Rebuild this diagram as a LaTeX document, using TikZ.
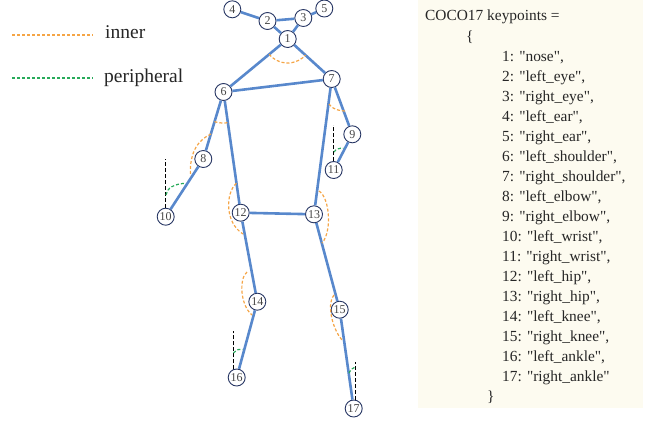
\documentclass[tikz,border=0pt]{standalone}
\usepackage{fontspec}
\setmainfont{Liberation Serif}[Ligatures=TeXOff]
\usetikzlibrary{calc}
\definecolor{bone}{RGB}{88,136,204}
\definecolor{kpedge}{RGB}{40,55,100}
\definecolor{kptext}{RGB}{70,70,70}
\definecolor{innerc}{RGB}{245,165,70}
\definecolor{periphc}{RGB}{40,170,90}
\definecolor{boxbg}{RGB}{253,251,240}
\begin{document}
\begin{tikzpicture}[x=1pt,y=-1pt,
  kp/.style={circle,draw=kpedge,fill=white,line width=0.9pt,minimum size=17pt,inner sep=0pt,
             font=\fontsize{12}{12}\selectfont,text=kptext},
  bonel/.style={draw=bone,line width=2.6pt},
  innerarc/.style={draw=innerc,line width=1.2pt,dash pattern=on 3pt off 2pt},
  periarc/.style={draw=periphc,line width=1.2pt,dash pattern=on 3pt off 2pt},
  vertl/.style={draw=black,line width=1.3pt,dash pattern=on 4pt off 2pt},
  listtxt/.style={anchor=base west,inner sep=0pt,font=\fontsize{15.4}{20}\selectfont,text=black!85},
  legtxt/.style={anchor=base west,inner sep=0pt,font=\fontsize{19.5}{22}\selectfont,text=black!85}]
\useasboundingbox (0,0) rectangle (645,421);
% list box
\fill[boxbg] (418,0) rectangle (643,408);
\node[listtxt] (title) at (425,20.5) {COCO17 keypoints =};
\node[listtxt] (obr) at (466,41) {\{};
\foreach \i/\n in {1/nose,2/left\_eye,3/right\_eye,4/left\_ear,5/right\_ear,6/left\_shoulder,
  7/right\_shoulder,8/left\_elbow,9/right\_elbow,10/left\_wrist,11/right\_wrist,12/left\_hip,
  13/right\_hip,14/left\_knee,15/right\_knee,16/left\_ankle}
  \node[listtxt] (item\i) at (502,{41+20*\i}) {\i: "\n",};
\node[listtxt] (item17) at (502,381) {17: "right\_ankle"};
\node[listtxt] (cbr) at (487,401) {\}};
% legend
\coordinate (li1) at (12,35); \coordinate (li2) at (93,35);
\coordinate (lp1) at (12,78); \coordinate (lp2) at (93,78);
\draw[innerarc] (li1) -- (li2);
\draw[periarc] (lp1) -- (lp2);
\node[legtxt] (linner) at (105,38) {inner};
\node[legtxt] (lperi) at (104,82) {peripheral};
% keypoints
\node[kp] (n1) at (287.7,39) {1};
\node[kp] (n2) at (267.5,21) {2};
\node[kp] (n3) at (303.3,18) {3};
\node[kp] (n4) at (232.3,9.3) {4};
\node[kp] (n5) at (324.3,8.5) {5};
\node[kp] (n6) at (223.5,92) {6};
\node[kp] (n7) at (331.7,79) {7};
\node[kp] (n8) at (203.3,159) {8};
\node[kp] (n9) at (352.3,134.3) {9};
\node[kp] (n10) at (165.7,216.7) {10};
\node[kp] (n11) at (333.7,170) {11};
\node[kp] (n12) at (240.7,212.7) {12};
\node[kp] (n13) at (314,214.3) {13};
\node[kp] (n14) at (257.3,301.7) {14};
\node[kp] (n15) at (339.7,309.7) {15};
\node[kp] (n16) at (236.7,377.5) {16};
\node[kp] (n17) at (353.7,408.5) {17};
% bones
\foreach \a/\b in {4/2,2/3,3/5,2/1,3/1,1/6,1/7,6/7,6/8,8/10,7/9,9/11,6/12,7/13,12/13,12/14,14/16,13/15,15/17}
  \draw[bonel] (n\a) -- (n\b);
% inner angle marks
\draw[innerarc] ($(n1)+(219.3:24pt)$) arc[start angle=219.3,end angle=317.7,radius=24pt];
\draw[innerarc] ($(n6)+(253:31pt)$) arc[start angle=253,end angle=278,radius=31pt];
\draw[innerarc] (211,134) .. controls (200,139) and (189,150) .. (190.5,176);
\draw[innerarc] (329,104) .. controls (332,109) and (339,111) .. (345,111);
\draw[innerarc] (236.4,183.3) .. controls (226,192) and (224,222) .. (243,234);
\draw[innerarc] (319,191) .. controls (330,198) and (332,232) .. (322,243);
\draw[innerarc] (247,272) .. controls (239,278) and (240,305) .. (252,315);
\draw[innerarc] (334,295) .. controls (327,302) and (331,327) .. (342,340);
% peripheral marks
\draw[vertl] (n10.north) -- ++(0,-49) coordinate (v10);
\draw[vertl] (n11.north) -- ++(0,-36) coordinate (v11);
\draw[vertl] (n16.113) -- ++(0,-38) coordinate (v16);
\draw[vertl] (n17.79) -- ++(0,-38) coordinate (v17);
\draw[periarc] (166,195) .. controls (167,188) and (174,184) .. (185,183.3);
\draw[periarc] (334,152) .. controls (336,149) and (339,148) .. (343.3,148.3);
\draw[periarc] (233.5,353) .. controls (235,350) and (238,349) .. (242.5,349.5);
\draw[periarc] (349,373) .. controls (350,370) and (352,368) .. (355.3,367);
\end{tikzpicture}
\end{document}
